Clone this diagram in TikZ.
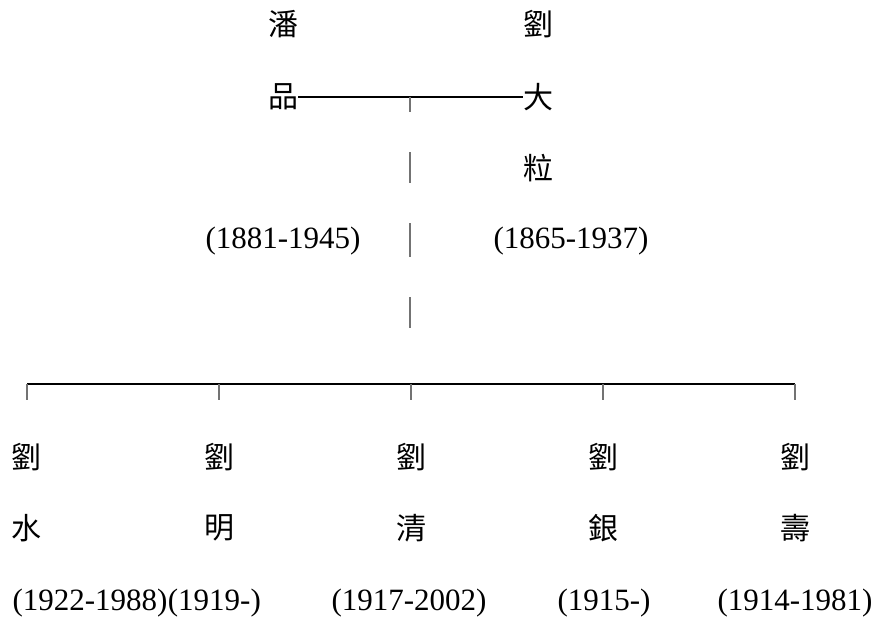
\documentclass[tikz,border=0pt]{standalone}
\usepackage{fontspec}
\setmainfont{Liberation Serif}
\newfontfamily\cjk{Noto Sans CJK TC}
\begin{document}
\begin{tikzpicture}[x=1pt,y=-1pt,
  nm/.style={inner sep=0pt,font=\cjk\fontsize{30}{30}\selectfont},
  yr/.style={inner sep=0pt,font=\fontsize{31}{31}\selectfont},
  hline/.style={line width=1.1pt,black},
  tick/.style={line width=1.4pt,black!55}]
\useasboundingbox (0,0) rectangle (877,621);
% parents
\node[nm] (p1) at (283,24) {潘};
\node[nm] (p2) at (283,97) {品};
\node[yr] (py) at (283,241) {(1881-1945)};
\node[nm] (l1) at (538,24) {劉};
\node[nm] (l2) at (538,97) {大};
\node[nm] (l3) at (538,168) {粒};
\node[yr] (ly) at (571,241) {(1865-1937)};
\draw[hline] (p2.east) -- (l2.west);
% descent line
\coordinate (v1a) at (410,97);  \coordinate (v1b) at (410,112);
\coordinate (v2a) at (410,152); \coordinate (v2b) at (410,183);
\coordinate (v3a) at (410,223); \coordinate (v3b) at (410,257);
\coordinate (v4a) at (410,297); \coordinate (v4b) at (410,328);
\draw[tick] (v1a) -- (v1b);
\draw[tick] (v2a) -- (v2b);
\draw[tick] (v3a) -- (v3b);
\draw[tick] (v4a) -- (v4b);
% sibling bar
\coordinate (b1) at (27,384);  \coordinate (t1) at (27,400);
\coordinate (b2) at (219,384); \coordinate (t2) at (219,400);
\coordinate (b3) at (411,384); \coordinate (t3) at (411,400);
\coordinate (b4) at (603,384); \coordinate (t4) at (603,400);
\coordinate (b5) at (795,384); \coordinate (t5) at (795,400);
\draw[hline] (b1) -- (b5);
\foreach \i in {1,...,5} \draw[tick] (b\i) -- (t\i);
% children
\node[nm] (c1a) at (27,457) {劉};
\node[nm] (c1b) at (27,528) {水};
\node[yr] (c1y) at (90,603) {(1922-1988)};
\node[nm] (c2a) at (219,457) {劉};
\node[nm] (c2b) at (219,528) {明};
\node[yr,anchor=west] (c2y) at (c1y.east) {(1919-)};
\node[nm] (c3a) at (411,457) {劉};
\node[nm] (c3b) at (411,528) {清};
\node[yr] (c3y) at (409,603) {(1917-2002)};
\node[nm] (c4a) at (603,457) {劉};
\node[nm] (c4b) at (603,528) {銀};
\node[yr] (c4y) at (604,603) {(1915-)};
\node[nm] (c5a) at (795,457) {劉};
\node[nm] (c5b) at (795,528) {壽};
\node[yr] (c5y) at (795,603) {(1914-1981)};
\end{tikzpicture}
\end{document}
